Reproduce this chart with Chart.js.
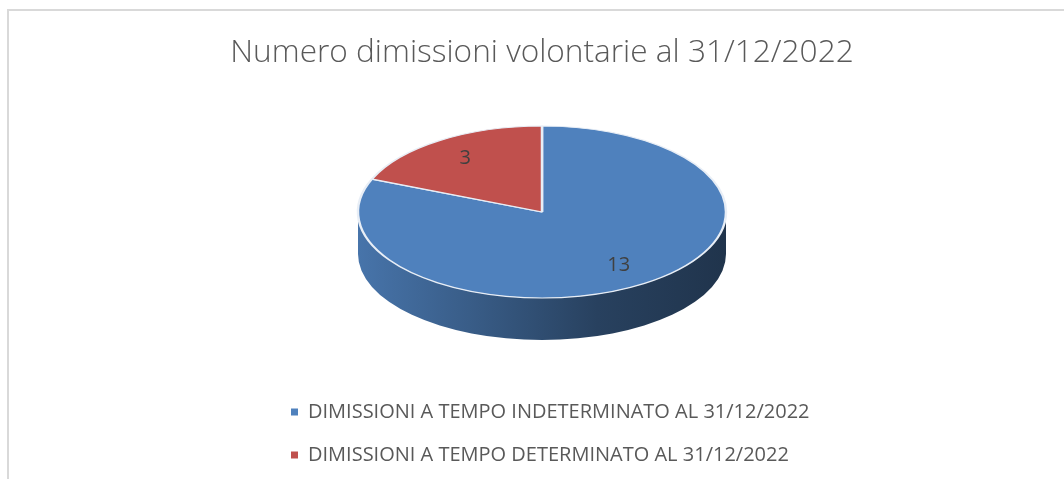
<!DOCTYPE html>
<html><head><meta charset="utf-8">
<script src="https://cdn.jsdelivr.net/npm/chart.js@4.4.1/dist/chart.umd.min.js"></script>
<style>
html,body{margin:0;padding:0;background:#fff;}
#wrap{position:relative;width:1064px;height:479px;overflow:hidden;background:#fff;}
#frame{position:absolute;left:7px;top:9px;width:1100px;height:520px;border-left:2px solid #d9d9d9;border-top:2px solid #d9d9d9;}
canvas{position:absolute;left:0;top:0;}
</style></head><body>
<div id="wrap"><div id="frame"></div><canvas id="c" width="1064" height="479"></canvas></div>
<script>
const TITLE = 'Numero dimissioni volontarie al 31/12/2022';
const categories = ['DIMISSIONI A TEMPO INDETERMINATO AL 31/12/2022', 'DIMISSIONI A TEMPO DETERMINATO AL 31/12/2022'];
const values = [13, 3];
const colors = ['#4f81bd', '#c0504d'];

const ELL = {cx: 542, cy: 212, rx: 184, ry: 86, depth: 42};
const LEGEND_LEFT = 268;

function shade(hex, f) {
  const n = parseInt(hex.slice(1), 16);
  const r = Math.round(((n >> 16) & 255) * f), g = Math.round(((n >> 8) & 255) * f), b = Math.round((n & 255) * f);
  return 'rgb(' + r + ',' + g + ',' + b + ')';
}

function drawSide(ctx, s, e, color) {
  const {cx, cy, rx, ry, depth} = ELL;
  ctx.beginPath();
  ctx.ellipse(cx, cy, rx, ry, 0, s, e, false);
  ctx.lineTo(cx + rx * Math.cos(e), cy + ry * Math.sin(e) + depth);
  ctx.ellipse(cx, cy + depth, rx, ry, 0, e, s, true);
  ctx.closePath();
  const g = ctx.createLinearGradient(cx - rx, 0, cx + rx, 0);
  g.addColorStop(0, shade(color, 0.9));
  g.addColorStop(0.3, shade(color, 0.72));
  g.addColorStop(0.65, shade(color, 0.5));
  g.addColorStop(1, shade(color, 0.4));
  ctx.fillStyle = g;
  ctx.fill();
}

const pie3d = {
  id: 'pie3d',
  beforeDraw(chart) {
    const lg = chart.legend;
    if (lg) { lg.left = LEGEND_LEFT; lg.right = chart.width; }
  },
  beforeDatasetsDraw(chart) {
    const ctx = chart.ctx;
    const meta = chart.getDatasetMeta(0);
    const el0 = meta.data[0];
    const ox = el0.x, oy = el0.y, r = el0.outerRadius;
    ctx.save();
    meta.data.forEach((el, i) => {
      for (let k = -1; k <= 1; k++) {
        const s = Math.max(el.startAngle, k * 2 * Math.PI);
        const e = Math.min(el.endAngle, k * 2 * Math.PI + Math.PI);
        if (e > s) drawSide(ctx, s, e, colors[i]);
      }
    });
    ctx.restore();
    ctx.save();
    ctx.translate(ELL.cx, ELL.cy);
    ctx.scale(ELL.rx / r, ELL.ry / r);
    ctx.translate(-ox, -oy);
  },
  afterDatasetsDraw(chart) {
    const ctx = chart.ctx;
    ctx.restore();
    const meta = chart.getDatasetMeta(0);
    ctx.save();
    ctx.fillStyle = '#404040';
    ctx.font = '20px "Open Sans"';
    ctx.textAlign = 'center';
    ctx.textBaseline = 'middle';
    meta.data.forEach((el, i) => {
      const mid = (el.startAngle + el.endAngle) / 2;
      const f = 0.75;
      const x = ELL.cx + ELL.rx * f * Math.cos(mid);
      const y = ELL.cy + ELL.ry * f * Math.sin(mid);
      ctx.fillText(String(values[i]), x, y);
    });
    ctx.restore();
  }
};

new Chart(document.getElementById('c'), {
  type: 'pie',
  data: {
    labels: categories,
    datasets: [{data: values, backgroundColor: colors, borderColor: '#e8eef6', borderWidth: 2}]
  },
  options: {
    responsive: false,
    animation: false,
    devicePixelRatio: 1,
    events: [],
    layout: {padding: {left: 20, right: 0, top: 0, bottom: 4}},
    plugins: {
      title: {display: true, text: TITLE, color: '#595959',
        font: {family: 'Open Sans', size: 31.6, weight: '300', lineHeight: 1.2},
        padding: {top: 34, bottom: 10}},
      legend: {position: 'bottom', align: 'start',
        labels: {color: '#595959', font: {family: 'Open Sans', size: 20}, boxWidth: 7, boxHeight: 7, padding: 23,
          generateLabels(chart) {
            const items = Chart.overrides.pie.plugins.legend.labels.generateLabels(chart);
            items.forEach(it => { it.lineWidth = 0; it.strokeStyle = it.fillStyle; });
            return items;
          }}},
      tooltip: {enabled: false}
    }
  },
  plugins: [pie3d]
});
</script>
</body></html>
